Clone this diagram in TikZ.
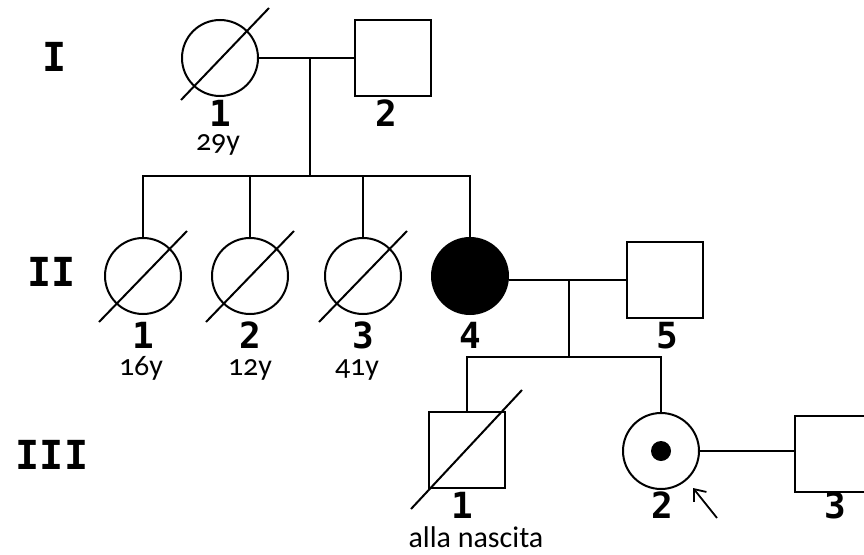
\documentclass[tikz,border=0pt]{standalone}
\usepackage{fontspec}
\usetikzlibrary{arrows.meta,calc}
\newfontfamily\numfont{DejaVu Sans Mono}
\newfontfamily\agefont{Carlito}[Numbers=OldStyle]
\begin{document}
\begin{tikzpicture}[x=1pt,y=-1pt,
  person/.style={draw,line width=2pt,inner sep=0pt,minimum size=76pt},
  female/.style={person,circle},
  male/.style={person,rectangle},
  affected/.style={fill=black},
  link/.style={line width=1.8pt},
  slash/.style={line width=2pt},
  gen/.style={font=\numfont\bfseries\fontsize{40}{40}\selectfont,inner sep=0pt},
  idnum/.style={font=\numfont\bfseries\fontsize{36}{36}\selectfont,inner sep=0pt},
  age/.style={font=\agefont\fontsize{30}{30}\selectfont,anchor=base,inner sep=0pt}]
\useasboundingbox (0,0) rectangle (864,554);

% generation labels
\node[gen] (gI)   at (55,57)  {I};
\node[gen] (gII)  at (52,272) {II};
\node[gen] (gIII) at (52,455) {III};

% generation I
\node[female] (I1) at (220,58) {};
\node[male]   (I2) at (393,58) {};
\draw[slash] ($(I1)+(-39,42)$) -- ($(I1)+(49,-50)$);
\node[idnum] (nI1) at (220,113) {1};
\node[age]   (aI1) at (218,150) {29y};
\node[idnum] (nI2) at (386,113) {2};

% generation II
\node[female] (II1) at (143,276) {};
\node[female] (II2) at (250,276) {};
\node[female] (II3) at (363,276) {};
\node[female,affected] (II4) at (470,276) {};
\node[male]   (II5) at (665,280) {};
\foreach \p in {II1,II2,II3}
  \draw[slash] ($(\p)+(-44,46)$) -- ($(\p)+(44,-45)$);
\node[idnum] (nII1) at (143,335) {1};
\node[idnum] (nII2) at (250,335) {2};
\node[idnum] (nII3) at (363,335) {3};
\node[idnum] (nII4) at (470,335) {4};
\node[idnum] (nII5) at (667,336) {5};
\node[age] (aII1) at (141,375) {16y};
\node[age] (aII2) at (250,375) {12y};
\node[age] (aII3) at (357,375) {41y};

% generation III
\node[male]   (III1) at (467,450) {};
\node[female] (III2) at (661,451) {};
\node[circle,fill=black,inner sep=0pt,minimum size=20pt] (III2dot) at (III2) {};
\node[male]   (III3) at (833,454) {};
\draw[slash] ($(III1)+(-56,59)$) -- ($(III1)+(55,-60)$);
\node[idnum] (nIII1) at (462,505) {1};
\node[age]   (aIII1) at (476,547) {alla nascita};
\node[idnum] (nIII2) at (662,505) {2};
\node[idnum] (nIII3) at (835,505) {3};

% couples and descent lines
\draw[link] (I1.east) -- (I2.west);
\coordinate (m1) at (310,58);
\coordinate (s1) at (310,176);
\draw[link] (m1) -- (s1);
\draw[link] (II1.north) |- (s1);
\draw[link] (II4.north) |- (s1);
\draw[link] (II2.north) -- (II2.north |- s1);
\draw[link] (II3.north) -- (II3.north |- s1);

\draw[link] (II5.west) -- (II5.west -| II4.east);
\coordinate (m2) at (569,280);
\coordinate (s2) at (569,357);
\draw[link] (m2) -- (s2);
\draw[link] (III1.north) |- (s2);
\draw[link] (III2.north) |- (s2);

\draw[link] (III2.east) -- (III2.east -| III3.west);

% proband arrow
\coordinate (pstart) at (717,518);
\coordinate (ptip) at (693,488);
\draw[link,-{Straight Barb[length=10pt,width=16pt]}] (pstart) -- (ptip);
\end{tikzpicture}
\end{document}
